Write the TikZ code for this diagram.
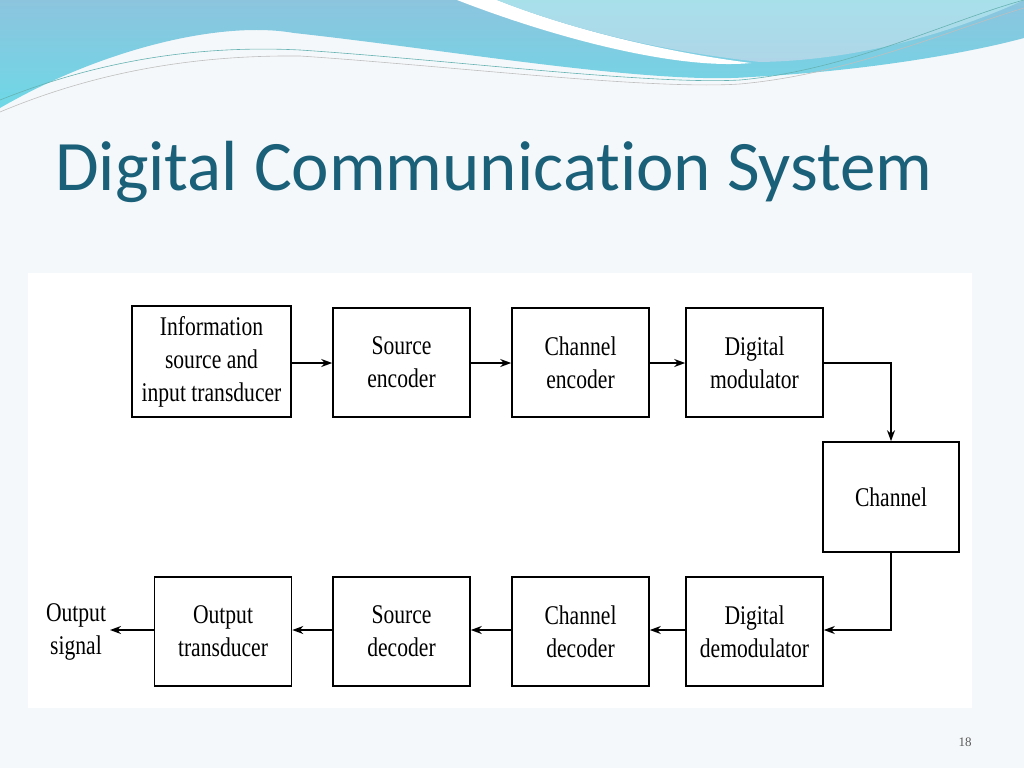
\documentclass[tikz,border=0pt]{standalone}
\usepackage{fontspec}
\setmainfont{Liberation Serif}
\newfontfamily\titlefont[Ligatures={NoCommon,NoDiscretionary,NoRare}]{Carlito}
\usetikzlibrary{arrows.meta}
\definecolor{bgc}{HTML}{F5F8FA}
\definecolor{wave1}{HTML}{8CC4DE}
\definecolor{wave2}{HTML}{6ED8E6}
\definecolor{wave3}{HTML}{A8E0EA}
\definecolor{titlec}{HTML}{1B6079}
\newcommand{\nw}[1]{\scalebox{0.8}[1]{#1}}
\begin{document}
\begin{tikzpicture}[x=1pt,y=-1pt,
  blk/.style={draw,line width=1.6pt,minimum width=137pt,minimum height=109pt,align=center,font=\fontsize{27}{33}\selectfont},
  arr/.style={-{Stealth[length=11pt,width=8pt]},line width=1.6pt}]
\useasboundingbox (0,0) rectangle (1024,768);
\fill[bgc] (0,0) rectangle (1024,768);
% waves
\shade[top color=wave1,bottom color=wave2] (0,0) -- (0,108) .. controls (100,50) and (220,20) .. (294,33) .. controls (450,50) and (650,85) .. (751,77) .. controls (880,70) and (980,50) .. (1024,38) -- (1024,0) -- cycle;
\fill[white] (457,0) .. controls (560,40) and (680,70) .. (751,63) .. controls (650,50) and (560,25) .. (497,0) -- cycle;
\shade[top color=wave3,bottom color=wave1!70] (497,0) .. controls (560,25) and (650,50) .. (760,62) .. controls (880,60) and (980,20) .. (1024,0) -- cycle;
\draw[teal!60,line width=0.6pt] (0,100) .. controls (100,60) and (200,45) .. (300,50) .. controls (450,60) and (650,85) .. (740,80) .. controls (850,70) and (950,20) .. (1024,0);
\draw[gray!50,line width=0.6pt] (0,112) .. controls (100,70) and (200,55) .. (300,56) .. controls (450,66) and (650,90) .. (740,84) .. controls (850,74) and (950,30) .. (1024,8);
% title
\node[anchor=base west,inner sep=0,text=titlec,font=\titlefont\fontsize{71}{71}\selectfont] (title) at (55,190) {Digital Communication System};
% panel
\fill[white] (28,273) rectangle (972,708);
\node[blk,minimum width=159pt,minimum height=111pt] (b1) at (211.5,361.5) {\nw{Information}\\\nw{source and}\\\nw{input transducer}};
\node[blk] (b2) at (401.5,362.5) {\nw{Source}\\\nw{encoder}};
\node[blk] (b3) at (580.5,362.5) {\nw{Channel}\\\nw{encoder}};
\node[blk] (b4) at (754.5,362.5) {\nw{Digital}\\\nw{modulator}};
\node[blk,minimum width=136pt,minimum height=110pt] (ch) at (891,497) {\nw{Channel}};
\node[blk] (c4) at (754.5,631.5) {\nw{Digital}\\\nw{demodulator}};
\node[blk] (c3) at (580.5,631.5) {\nw{Channel}\\\nw{decoder}};
\node[blk] (c2) at (401.5,631.5) {\nw{Source}\\\nw{decoder}};
\node[blk] (c1) at (223,631.5) {\nw{Output}\\\nw{transducer}};
\node[align=center,inner sep=0,font=\fontsize{27}{33}\selectfont] (out) at (76,632) {\nw{Output}\\\nw{signal}};
\coordinate (o) at (110,630);
\draw[arr] (b1.east|-0,363) -- (b2.west|-0,363);
\draw[arr] (b2.east|-0,363) -- (b3.west|-0,363);
\draw[arr] (b3.east|-0,363) -- (b4.west|-0,363);
\draw[arr] (b4.east|-0,363) -| (ch.north);
\draw[arr] (ch.south) |- (c4.east|-0,630);
\draw[arr] (c4.west|-0,630) -- (c3.east|-0,630);
\draw[arr] (c3.west|-0,630) -- (c2.east|-0,630);
\draw[arr] (c2.west|-0,630) -- (c1.east|-0,630);
\draw[arr] (c1.west|-0,630) -- (o);
\node[font=\fontsize{13}{13}\selectfont,text=gray!70!black] (pg) at (965,742) {18};
\end{tikzpicture}
\end{document}
